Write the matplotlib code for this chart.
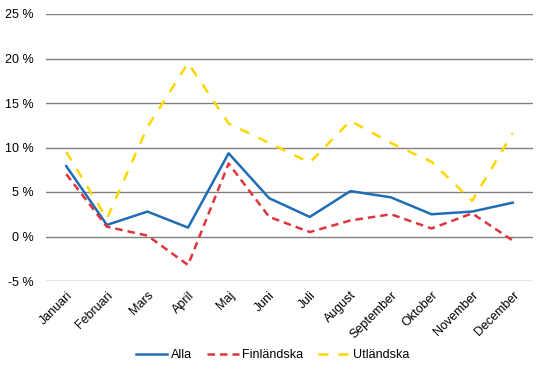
import matplotlib.pyplot as plt
from matplotlib.ticker import FuncFormatter

plt.rcParams['font.family'] = ['Liberation Sans', 'DejaVu Sans']

months = ['Januari', 'Februari', 'Mars', 'April', 'Maj', 'Juni', 'Juli',
          'August', 'September', 'Oktober', 'November', 'December']
alla = [7.9, 1.3, 2.8, 1.0, 9.35, 4.3, 2.2, 5.1, 4.4, 2.5, 2.8, 3.8]
finlandska = [7.0, 1.1, 0.1, -3.2, 8.2, 2.2, 0.5, 1.8, 2.5, 0.9, 2.6, -0.45]
utlandska = [9.5, 2.0, 12.3, 19.5, 12.7, 10.5, 8.3, 13.0, 10.5, 8.4, 4.0, 11.6]


def main():
    fig = plt.figure(figsize=(5.46, 3.76), dpi=100)
    ax = fig.add_axes([46 / 546, 1 - 281 / 376, 487 / 546, 267 / 376])

    x = range(len(months))
    ax.plot(x, alla, '-', color='#1f6db5', lw=1.8, label='Alla')
    ax.plot(x, finlandska, '--', color='#e0353d', lw=1.8, dashes=(3, 2), label='Finländska')
    ax.plot(x, utlandska, '--', color='#ffd700', lw=1.8, dashes=(4, 4), label='Utländska')

    ax.set_xlim(-0.5, len(months) - 0.5)
    ax.set_ylim(-5, 25)
    ax.set_yticks(range(-5, 26, 5))
    ax.yaxis.set_major_formatter(FuncFormatter(lambda v, p: f'{v:.0f} %'))
    ax.set_xticks(list(x))
    ax.set_xticklabels(months, rotation=45, ha='right', rotation_mode='anchor')

    ax.grid(axis='y', color='#808080', lw=1)
    ax.set_axisbelow(True)
    for s in ax.spines.values():
        s.set_visible(False)
    ax.tick_params(length=0, labelsize=9, colors='black')
    ax.tick_params(axis='y', pad=9)
    ax.tick_params(axis='x', pad=6)

    fig.legend(loc='lower center', bbox_to_anchor=(0.5, 0.01), ncol=3,
               frameon=False, fontsize=9, handlelength=2.5, columnspacing=1.2,
               handletextpad=0.3)

    fig.savefig('out.png', dpi=100)


if __name__ == '__main__':
    main()
